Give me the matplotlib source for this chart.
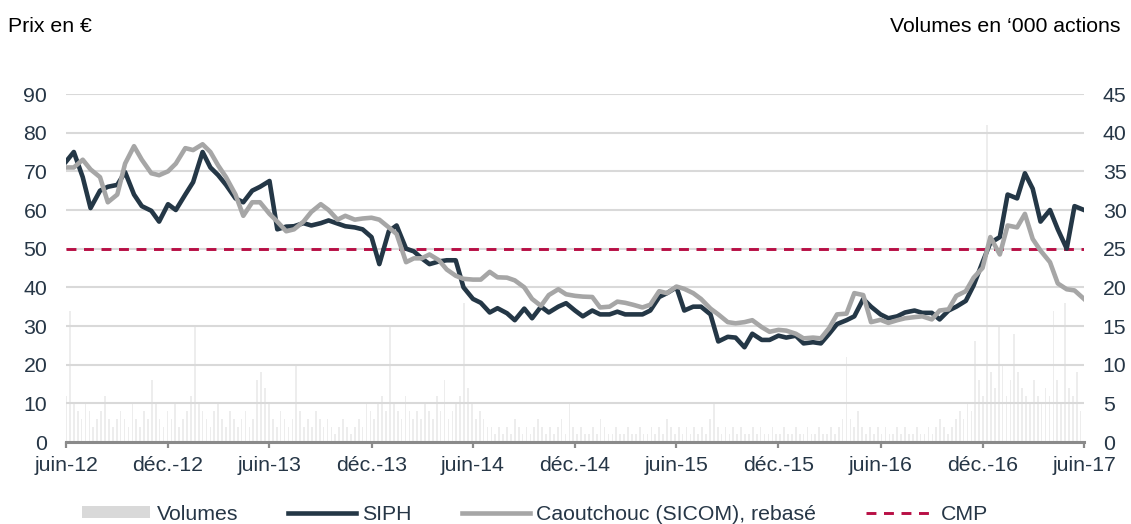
import matplotlib
matplotlib.use("Agg")
import matplotlib.pyplot as plt
import pandas as pd
from matplotlib.patches import Patch
from matplotlib.lines import Line2D

plt.rcParams['font.family'] = ['Liberation Sans', 'DejaVu Sans']

# ---------------- data ----------------
dates_prix = pd.date_range('2012-06-01', '2017-06-01', freq='SMS')  # semi-monthly readings

siph = [72.5, 75, 68.5, 60.5, 65, 66, 66.5, 69.8, 64, 61,
        59.8, 57, 61.5, 60, 64, 67.2, 75, 71, 69, 66.5,
        63, 62, 65, 66, 67.5, 55, 55.7, 55.8, 56.6, 56,
        56.6, 57.3, 56.5, 55.8, 55.5, 55, 53, 46, 54.5, 56,
        50, 49.3, 47.5, 46, 46.7, 47, 47, 40, 37, 36,
        33.5, 34.6, 33.3, 31.5, 34.5, 32, 35, 33.5, 35, 35.9,
        34, 32.5, 34, 33, 33, 33.7, 33, 33, 33, 34,
        37.5, 38.5, 40, 34, 35, 35, 33, 26, 27.2, 27,
        24.5, 28, 26.4, 26.4, 27.5, 27, 27.5, 25.5, 25.8, 25.5,
        28, 30.5, 31.5, 32.5, 37, 35, 33, 32, 32.5, 33.5,
        34, 33.4, 33.4, 31.7, 34, 35, 36.5, 40.5, 46.5, 51.5,
        53, 64, 63, 69.5, 65.5, 57, 60, 55, 50, 61,
        60]

caoutchouc = [71, 71, 73, 70.5, 68.5, 62, 64, 72, 76.5, 73,
              69.5, 69, 70, 72, 76, 75.5, 77, 75, 71.5, 68.5,
              64, 58.5, 62, 62, 59, 57, 54.5, 55, 57, 59.5,
              61.5, 60, 57.5, 58.5, 57.5, 57.8, 58, 57.5, 55.5, 53.8,
              46.5, 47.5, 47.5, 48.5, 47, 44.6, 43, 42.2, 42, 42,
              44, 42.6, 42.5, 41.8, 40, 37, 35.2, 38, 39.5, 38.2,
              37.8, 37.6, 37.5, 34.8, 35, 36.3, 36, 35.5, 34.8, 35.5,
              39, 38.5, 40.2, 39.6, 38.5, 37, 34.5, 33, 31, 30.7,
              31, 31.5, 29.7, 28.5, 29, 28.8, 28, 26.8, 27, 26.8,
              29.5, 33, 33.2, 38.5, 38, 31, 31.6, 30.8, 31.5, 32,
              32.3, 32.5, 31.7, 34, 34.3, 37.8, 39, 42.5, 45, 53,
              48.5, 56, 55.5, 59, 52.5, 49.5, 46.5, 41, 39.5, 39.2,
              37]

cmp_value = 50

dates_vol = pd.date_range('2012-06-01', periods=261, freq='7D')  # weekly readings
volumes = [6, 17, 5, 4, 3, 5, 4, 2, 3, 4,
           6, 3, 2, 3, 4, 3, 2, 5, 3, 2,
           4, 3, 8, 5, 3, 2, 4, 3, 5, 2,
           3, 4, 6, 15, 5, 4, 3, 2, 4, 5,
           3, 2, 4, 3, 2, 3, 4, 2, 3, 8,
           9, 7, 5, 3, 2, 4, 3, 2, 3, 10,
           4, 2, 3, 2, 4, 3, 2, 3, 2, 1,
           2, 3, 2, 1, 2, 3, 2, 5, 4, 3,
           5, 6, 4, 15, 5, 4, 3, 6, 4, 3,
           4, 3, 5, 4, 3, 6, 4, 8, 3, 4,
           5, 6, 18, 7, 5, 3, 4, 3, 2, 2,
           1, 2, 1, 2, 1, 3, 2, 1, 2, 1,
           2, 3, 2, 1, 2, 1, 2, 3, 1, 5,
           2, 1, 2, 1, 1, 2, 1, 3, 2, 1,
           1, 2, 1, 1, 2, 1, 1, 2, 1, 1,
           2, 1, 2, 1, 3, 2, 1, 2, 1, 2,
           1, 2, 1, 2, 1, 3, 5, 2, 1, 2,
           1, 2, 1, 2, 1, 1, 2, 1, 2, 1,
           1, 2, 1, 1, 2, 1, 1, 2, 1, 1,
           2, 1, 1, 2, 1, 1, 2, 1, 2, 3,
           11, 3, 2, 4, 2, 1, 2, 1, 2, 1,
           2, 1, 1, 2, 1, 2, 1, 1, 2, 1,
           1, 2, 1, 2, 3, 2, 1, 2, 3, 4,
           3, 5, 4, 13, 8, 6, 41, 9, 7, 15,
           10, 6, 8, 14, 9, 7, 6, 5, 8, 6,
           5, 7, 6, 17, 8, 5, 18, 7, 6, 9, 4]

x_ticks = pd.date_range('2012-06-01', '2017-06-01', freq='6MS')
x_labels = ['juin-12', 'déc.-12', 'juin-13', 'déc.-13', 'juin-14', 'déc.-14',
            'juin-15', 'déc.-15', 'juin-16', 'déc.-16', 'juin-17']
left_ticks = list(range(0, 91, 10))
right_ticks = list(range(0, 46, 5))

# ---------------- style ----------------
C_SIPH = '#243746'
C_RUB = '#a6a6a6'
C_CMP = '#b80f45'
C_VOL = '#ededed'
C_VOL_LEG = '#d9d9d9'
C_GRID = '#d9d9d9'
C_TXT = '#263646'
C_AXIS = '#8a8a8a'
FS = 15.3
LW = 3.3

W, H = 1131, 524
fig = plt.figure(figsize=(W / 100, H / 100), dpi=100)
ax = fig.add_axes([66 / W, 1 - 442 / H, (1084 - 66) / W, (442 - 94) / H])
ax2 = ax.twinx()

ax2.bar(dates_vol, volumes, width=3, color=C_VOL, align='center', zorder=1, linewidth=0)
ax2.set_ylim(0, 45)
ax2.set_yticks(right_ticks)

ax.set_zorder(ax2.get_zorder() + 1)
ax.patch.set_visible(False)

ax.axhline(cmp_value, color=C_CMP, lw=2.1, dashes=(3.4, 2.6), zorder=3)
ax.plot(dates_prix, siph, color=C_SIPH, lw=LW, zorder=4, solid_joinstyle='round')
ax.plot(dates_prix, caoutchouc, color=C_RUB, lw=LW, zorder=5, solid_joinstyle='round')

ax.set_ylim(0, 90)
ax.set_yticks(left_ticks)
ax.set_xlim(pd.Timestamp('2012-06-01'), pd.Timestamp('2017-06-01'))
ax.set_xticks(x_ticks)
ax.set_xticklabels(x_labels)
ax.yaxis.grid(True, color=C_GRID, lw=1.5, zorder=0)
ax.set_axisbelow(True)

for s in ['left', 'right', 'top']:
    ax.spines[s].set_visible(False)
for s in ax2.spines.values():
    s.set_visible(False)
ax.spines['bottom'].set_color(C_AXIS)
ax.spines['bottom'].set_linewidth(2.2)
ax.spines['bottom'].set_zorder(6)

ax.tick_params(axis='y', length=0, pad=13.5, labelsize=FS, labelcolor=C_TXT)
ax2.tick_params(axis='y', length=0, pad=13.5, labelsize=FS, labelcolor=C_TXT)
ax.tick_params(axis='x', length=4, width=1.6, color=C_AXIS, pad=6, labelsize=FS, labelcolor=C_TXT)

fig.text(8 / W, 1 - 27 / H, 'Prix en €', ha='left', va='center', fontsize=FS, color='black')
fig.text(1121 / W, 1 - 26 / H, 'Volumes en ‘000 actions', ha='right', va='center', fontsize=FS, color='black')

handles = [Patch(facecolor=C_VOL_LEG, edgecolor='none'),
           Line2D([], [], color=C_SIPH, lw=LW),
           Line2D([], [], color=C_RUB, lw=LW),
           Line2D([], [], color=C_CMP, lw=2.1, dashes=(3.4, 2.6))]
labels = ['Volumes', 'SIPH', 'Caoutchouc (SICOM), rebasé', 'CMP']
leg = fig.legend(handles, labels, loc='center', bbox_to_anchor=(0.473, 0.019), ncol=4,
                 frameon=False, fontsize=FS, handlelength=3.2, handletextpad=0.3,
                 columnspacing=2.35, handleheight=0.55, borderpad=0.2)
for t in leg.get_texts():
    t.set_color(C_TXT)

fig.savefig('out.png', dpi=100)
